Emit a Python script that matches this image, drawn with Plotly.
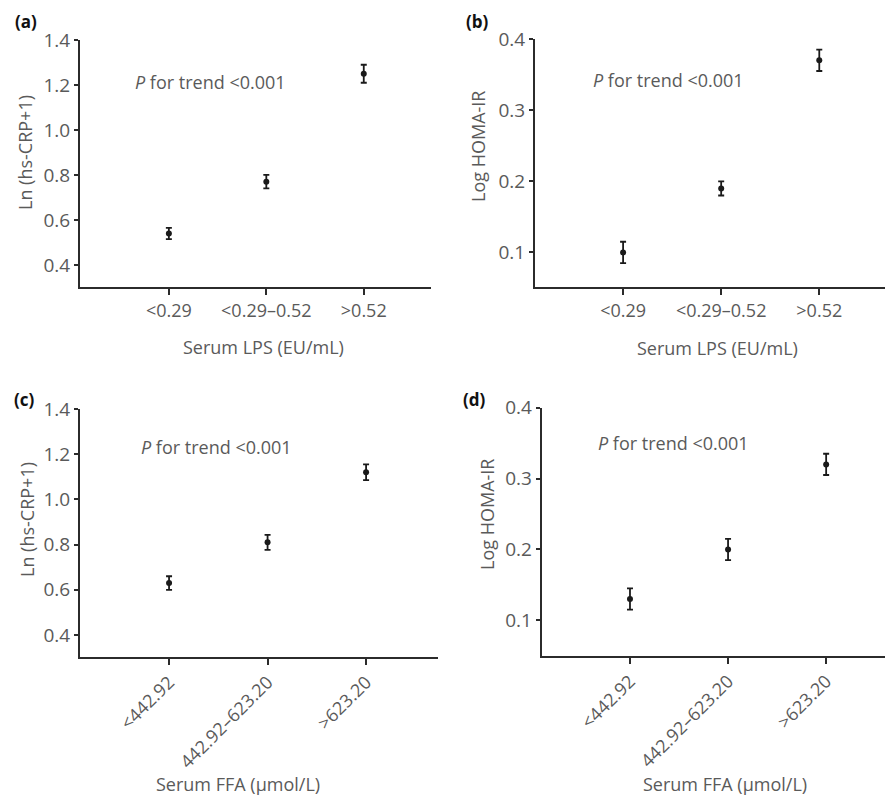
import plotly.graph_objects as go

W, H = 885, 796

lps_cats = ["<0.29", "<0.29–0.52", ">0.52"]
ffa_cats = ["<442.92", "442.92–623.20", ">623.20"]

a_vals = [0.54, 0.77, 1.25]
a_err = [0.025, 0.03, 0.04]
b_vals = [0.10, 0.19, 0.37]
b_err = [0.015, 0.01, 0.015]
c_vals = [0.63, 0.81, 1.12]
c_err = [0.03, 0.033, 0.035]
d_vals = [0.13, 0.20, 0.32]
d_err = [0.015, 0.015, 0.015]

crp_ticks = [0.4, 0.6, 0.8, 1.0, 1.2, 1.4]
homa_ticks = [0.1, 0.2, 0.3, 0.4]

FONT = "Open Sans"
TICKC = "#5a5a5a"
AXC = "#2b2b2b"

def px(x):
    return x / W

def py(y):
    return 1 - y / H

fig = go.Figure()

panels = [
    ("", lps_cats, a_vals, a_err, (80, 431), (40, 287), (-0.912, 2.69), (0.302, 1.4), crp_ticks, 0),
    ("2", lps_cats, b_vals, b_err, (535, 885), (39, 287.3), (-0.898, 2.67), (0.051, 0.4), homa_ticks, 0),
    ("3", ffa_cats, c_vals, c_err, (80, 438), (409, 656.7), (-0.904, 2.73), (0.304, 1.4), crp_ticks, -45),
    ("4", ffa_cats, d_vals, d_err, (541.7, 885), (407.7, 655.7), (-0.90, 2.6), (0.05, 0.4), homa_ticks, -45),
]

for name, cats, vals, err, xd, yd, xr, yr, yt, ang in panels:
    xa = "x" + name
    ya = "y" + name
    fig.add_trace(go.Scatter(
        x=list(range(len(cats))), y=vals,
        mode="markers",
        marker=dict(color="#1a1a1a", size=6),
        error_y=dict(type="data", array=err, visible=True, color="#1a1a1a", thickness=1.8, width=3),
        xaxis=xa, yaxis=ya, showlegend=False,
    ))
    fig.layout["xaxis" + name] = dict(
        domain=[px(xd[0]), px(xd[1])], anchor=ya,
        range=list(xr), tickmode="array", tickvals=list(range(len(cats))), ticktext=cats,
        showline=True, linecolor=AXC, linewidth=2, ticks="outside", ticklen=6, tickwidth=2,
        tickcolor=AXC, showgrid=False, zeroline=False, tickangle=ang, automargin=False,
        tickfont=dict(family=FONT, size=18, color=TICKC), fixedrange=True,
    )
    fig.layout["yaxis" + name] = dict(
        domain=[py(yd[1]), py(yd[0])], anchor=xa,
        range=list(yr), tickmode="array", tickvals=yt, tickformat=".1f",
        showline=True, linecolor=AXC, linewidth=2, ticks="outside", ticklen=4, tickwidth=2,
        tickcolor=AXC, showgrid=False, zeroline=False, automargin=False,
        tickfont=dict(family=FONT, size=19, color=TICKC), fixedrange=True,
    )

ann = []
def add(text, x, y, size=18, color=TICKC, xanchor="center", yanchor="middle", angle=0):
    ann.append(dict(text=text, x=px(x), y=py(y), xref="paper", yref="paper",
                    showarrow=False, xanchor=xanchor, yanchor=yanchor, textangle=angle,
                    font=dict(family=FONT, size=size, color=color)))

# panel labels
add("<b>(a)</b>", 26, 22, size=17, color="#111")
add("<b>(b)</b>", 477, 22, size=17, color="#111")
add("<b>(c)</b>", 24, 399, size=17, color="#111")
add("<b>(d)</b>", 474, 400, size=17, color="#111")

# trend annotations
ptxt = "<i>P</i> for trend <0.001"
add(ptxt, 133, 82, xanchor="left")
add(ptxt, 591, 80, xanchor="left")
add(ptxt, 139, 447, xanchor="left")
add(ptxt, 596, 443, xanchor="left")

# axis titles
add("Serum LPS (EU/mL)", 263, 347)
add("Serum LPS (EU/mL)", 717, 348)
add("Serum FFA (μmol/L)", 238, 784)
add("Serum FFA (μmol/L)", 725, 784)
add("Ln (hs-CRP+1)", 25, 153, angle=-90)
add("Log HOMA-IR", 478, 147, angle=-90)
add("Ln (hs-CRP+1)", 27, 520, angle=-90)
add("Log HOMA-IR", 487, 514, angle=-90)

fig.update_layout(
    width=W, height=H, margin=dict(l=0, r=0, t=0, b=0, autoexpand=False),
    paper_bgcolor="white", plot_bgcolor="white",
    annotations=ann, font=dict(family=FONT),
)

fig.write_html("out.html", config={"displayModeBar": False},
               post_script="document.body.style.margin='0';document.body.style.overflow='hidden';")
